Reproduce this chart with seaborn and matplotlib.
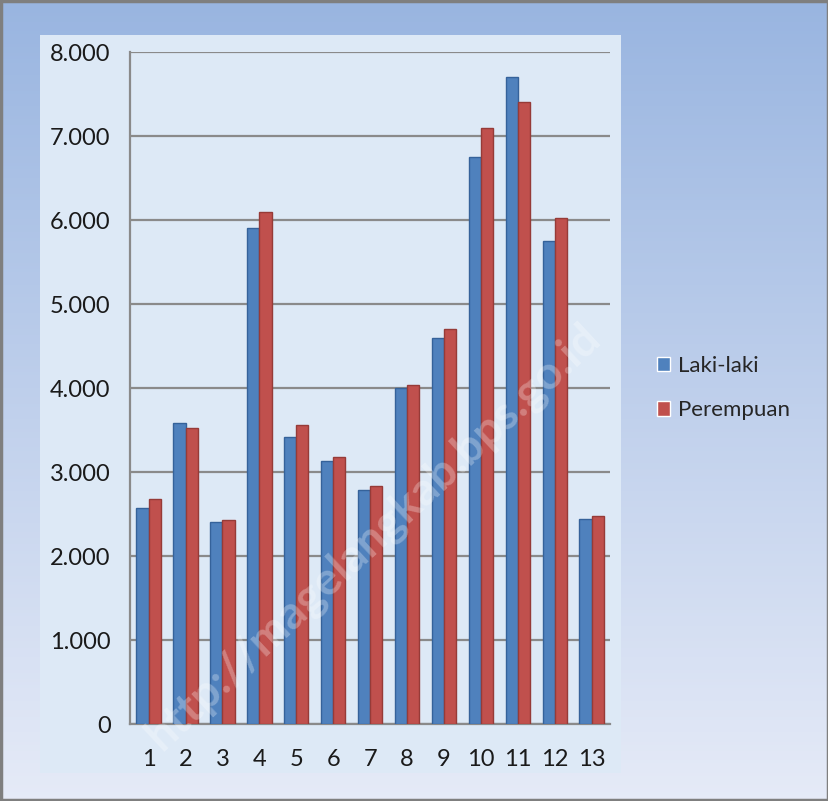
import numpy as np
import pandas as pd
import matplotlib.pyplot as plt
import seaborn as sns
from matplotlib.patches import Rectangle
from matplotlib.ticker import FuncFormatter

# data
kategori = [str(i) for i in range(1, 14)]
laki_laki = [2570, 3580, 2400, 5900, 3420, 3130, 2790, 4000, 4600, 6750, 7700, 5750, 2440]
perempuan = [2680, 3520, 2430, 6100, 3560, 3180, 2830, 4040, 4700, 7100, 7400, 6020, 2480]
seri = ['Laki-laki', 'Perempuan']
y_ticks = [0, 1000, 2000, 3000, 4000, 5000, 6000, 7000, 8000]

df = pd.DataFrame({
    'kategori': kategori * 2,
    'jumlah': laki_laki + perempuan,
    'jenis': [seri[0]] * len(kategori) + [seri[1]] * len(kategori),
})

sns.set_theme(style="white")
plt.rcParams['font.family'] = ['Lato', 'DejaVu Sans']

fig = plt.figure(figsize=(8.29, 8.01), dpi=100)

# gradient background of the whole picture
bg = fig.add_axes([0, 0, 1, 1], zorder=-2)
grad = np.linspace(0, 1, 256).reshape(-1, 1)
top = np.array([0.60, 0.71, 0.88])
bottom = np.array([0.90, 0.92, 0.97])
img = top + (bottom - top) * grad[:, :, None]
bg.imshow(img, aspect='auto', extent=[0, 1, 0, 1], origin='upper')
bg.set_xlim(0, 1)
bg.set_ylim(0, 1)
bg.add_patch(Rectangle((0.001, 0.001), 0.998, 0.998, fill=False, edgecolor='#7f7f7f', lw=2.5))
# light inner panel behind the plot
bg.add_patch(Rectangle((0.048, 0.035), 0.701, 0.921, facecolor='#dde9f6', edgecolor='none'))
bg.axis('off')

ax = fig.add_axes([0.157, 0.096, 0.579, 0.839])
ax.set_facecolor('none')
sns.barplot(data=df, x='kategori', y='jumlah', hue='jenis',
            palette=['#4f81bd', '#c0504d'], saturation=1, width=0.66, gap=0,
            linewidth=1, ax=ax, zorder=3)

edge = ['#35629a', '#963b38']
for cont, ec in zip(ax.containers, edge):
    for p in cont:
        p.set_edgecolor(ec)

ax.set_ylim(0, 8000)
ax.set_xlim(-0.5, 12.5)
ax.set_yticks(y_ticks)
ax.yaxis.set_major_formatter(FuncFormatter(lambda v, p: f'{int(v):,}'.replace(',', '.')))
ax.grid(axis='y', color='#8a8a8a', lw=1.6, zorder=0)
ax.set_axisbelow(True)
for s in ['top', 'right']:
    ax.spines[s].set_visible(False)
for s in ['left', 'bottom']:
    ax.spines[s].set_color('#8a8a8a')
    ax.spines[s].set_linewidth(1.6)

ax.set_xticks(np.arange(-0.5, 13, 1), minor=True)
ax.tick_params(axis='x', which='major', length=0, labelsize=17, pad=18)
ax.tick_params(axis='x', which='minor', length=6, width=1.6, color='#8a8a8a', direction='out')
ax.tick_params(axis='y', length=6, width=1.6, color='#8a8a8a', labelsize=17, pad=8)
ax.tick_params(axis='both', labelcolor='#1a1a1a')
ax.set_xlabel('')
ax.set_ylabel('')

ax.legend(loc='center left', bbox_to_anchor=(1.055, 0.5), frameon=False,
          fontsize=16, handlelength=0.6, handleheight=0.6, handletextpad=0.35,
          labelspacing=1.1)

# faint site watermark across the panel
fig.text(0.45, 0.33, 'http://magelangkab.bps.go.id', rotation=43, fontsize=33,
         color='white', alpha=0.28, ha='center', va='center', fontweight='bold',
         zorder=5)

fig.savefig('out.png', dpi=100)
